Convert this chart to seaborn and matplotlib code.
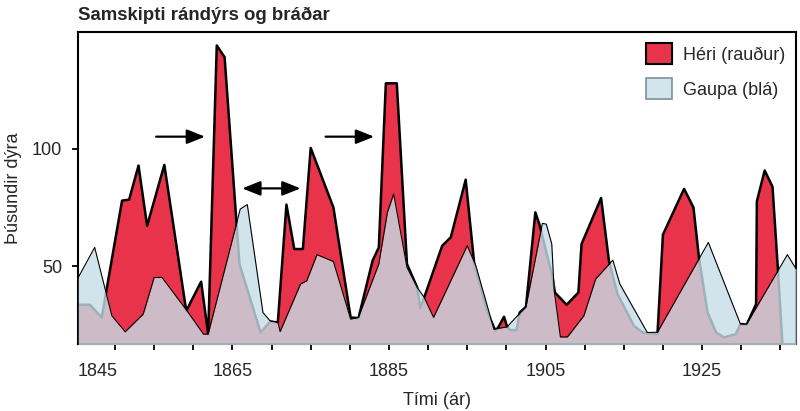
import matplotlib.pyplot as plt
import seaborn as sns
import pandas as pd
from matplotlib.patches import Patch

# values (thousands of animals)
hare_years = [1845.3, 1846.8, 1848.3, 1850.9, 1851.8, 1853.0, 1854.1, 1856.3, 1859.1, 1861.0,
              1861.9, 1863.0, 1864.0, 1865.9, 1868.6, 1869.8, 1870.8, 1871.9, 1872.9, 1874.0,
              1875.0, 1877.9, 1880.1, 1881.1, 1882.9, 1883.7, 1884.6, 1886.0, 1887.3, 1888.6,
              1889.0, 1889.5, 1891.8, 1892.9, 1894.8, 1895.9, 1897.6, 1898.6, 1899.0, 1899.7,
              1900.1, 1900.5, 1901.3, 1901.7, 1902.5, 1903.7, 1904.2, 1905.9, 1906.2, 1907.7,
              1909.2, 1909.6, 1912.1, 1913.1, 1914.2, 1916.3, 1917.4, 1918.2, 1919.3, 1920.0,
              1922.7, 1923.9, 1924.6, 1925.7, 1926.8, 1927.8, 1929.3, 1929.9, 1930.7, 1931.9,
              1932.0, 1933.0, 1934.0, 1934.7, 1935.3]
hare = [33.7, 33.7, 28.3, 78.0, 78.4, 92.9, 67.3, 93.2, 31.1, 43.5,
        21.2, 144.0, 139.0, 51.0, 21.9, 26.5, 26.2, 76.3, 57.4, 57.4,
        100.4, 75.1, 28.3, 28.0, 52.4, 58.1, 127.9, 127.9, 51.0, 41.1,
        32.3, 36.8, 58.8, 62.4, 86.9, 51.0, 30.4, 22.6, 24.3, 28.6,
        24.3, 22.9, 22.9, 30.4, 32.8, 73.0, 68.1, 45.3, 38.9, 33.7,
        38.9, 59.5, 79.1, 52.4, 38.2, 24.7, 21.9, 21.5, 21.2, 63.5,
        83.0, 75.1, 53.8, 30.4, 21.9, 19.8, 21.2, 25.5, 25.2, 34.0,
        77.7, 90.8, 83.9, 48.2, 15.0]

lynx_years = [1845.3, 1847.4, 1848.9, 1849.6, 1851.3, 1853.6, 1855.0, 1856.0, 1859.2, 1861.3,
              1861.9, 1866.0, 1866.9, 1868.9, 1869.8, 1870.8, 1871.1, 1873.7, 1874.5, 1875.8,
              1877.9, 1880.1, 1881.1, 1883.7, 1884.8, 1885.6, 1887.3, 1888.6, 1889.5, 1890.7,
              1895.0, 1896.1, 1898.4, 1900.1, 1901.6, 1902.5, 1904.6, 1905.1, 1905.8, 1906.1,
              1906.9, 1907.8, 1909.9, 1911.4, 1913.6, 1914.5, 1918.0, 1919.3, 1925.8, 1929.9,
              1930.7, 1935.9, 1937.0]
lynx = [45.3, 58.1, 38.2, 29.0, 22.2, 29.7, 45.3, 45.3, 31.1, 21.2,
        21.2, 74.4, 76.3, 30.4, 26.9, 26.2, 22.3, 42.5, 43.9, 55.0,
        52.1, 27.6, 28.3, 51.0, 73.0, 80.8, 49.6, 41.1, 36.8, 28.3,
        58.8, 50.3, 23.3, 24.3, 29.7, 32.8, 68.3, 68.0, 59.5, 40.0,
        20.0, 20.0, 29.0, 44.6, 52.7, 42.5, 21.9, 22.0, 60.2, 25.5,
        25.5, 55.0, 49.0]

year_ticks = list(range(1850, 1940, 5))
year_labels = [1865, 1885, 1905, 1925]

hare_df = pd.DataFrame({"year": hare_years, "count": hare})
lynx_df = pd.DataFrame({"year": lynx_years, "count": lynx})

sns.set_theme(style="ticks")
plt.rcParams["font.family"] = ["Liberation Sans", "DejaVu Sans"]

red = "#e8334a"
blue = "#c7dee7"

fig = plt.figure(figsize=(8, 4.11), dpi=100)
ax = fig.add_axes([0.0975, 0.163, 0.8975, 0.759])

ax.fill_between(hare_df["year"], hare_df["count"], 0, color=red, lw=0, zorder=1)
sns.lineplot(data=hare_df, x="year", y="count", color="black", lw=1.8,
             estimator=None, ax=ax, zorder=2)
ax.fill_between(lynx_df["year"], lynx_df["count"], 0, color=blue, alpha=0.8, lw=0, zorder=3)
sns.lineplot(data=lynx_df, x="year", y="count", color="black", lw=0.8,
             estimator=None, ax=ax, zorder=4)

ax.set_xlim(1845.27, 1937.0)
ax.set_ylim(17, 149.7)
ax.set_xticks(year_ticks)
ax.set_xticklabels([str(y) if y in year_labels else "" for y in year_ticks])
ax.set_yticks([50, 100])
tick_len, tick_pad = 4.5, 9
ax.tick_params(axis="x", labelsize=13, length=tick_len, width=1.3, pad=tick_pad, color="black")
ax.tick_params(axis="y", labelsize=13, length=tick_len, width=1.3, pad=7, color="black")
# the first year sits on the left spine, label it left-aligned like the reference
ax.annotate("1845", xy=(0, 0), xycoords="axes fraction",
            xytext=(0, -(tick_len + tick_pad)), textcoords="offset points",
            ha="left", va="top", fontsize=13)

for s in ax.spines.values():
    s.set_linewidth(1.5)
    s.set_color("black")

ax.set_xlabel("Tími (ár)", fontsize=13, labelpad=9)
ax.set_ylabel("Þúsundir dýra", fontsize=13, labelpad=7)
ax.set_title("Samskipti rándýrs og bráðar", loc="left", fontsize=13.4,
             fontweight="bold", pad=9)

arrow = dict(arrowstyle="-|>,head_length=0.55,head_width=0.22", color="black",
             lw=1.6, shrinkA=0, shrinkB=0, mutation_scale=20)
ax.annotate("", xy=(1861.5, 105.2), xytext=(1855.25, 105.2), arrowprops=arrow, zorder=6)
ax.annotate("", xy=(1883.1, 105.2), xytext=(1876.9, 105.2), arrowprops=arrow, zorder=6)
ax.annotate("", xy=(1873.7, 83.2), xytext=(1866.25, 83.2),
            arrowprops=dict(arrow, arrowstyle="<|-|>,head_length=0.55,head_width=0.22"),
            zorder=6)

handles = [Patch(facecolor=red, edgecolor="black", lw=1.5, label="Héri (rauður)"),
           Patch(facecolor="#d2e5ec", edgecolor="#7f8f96", lw=1.2, label="Gaupa (blá)")]
ax.legend(handles=handles, loc="upper right", frameon=False, fontsize=13,
          handlelength=1.45, handleheight=1.45, handletextpad=0.6,
          labelspacing=0.75, borderaxespad=0.2, bbox_to_anchor=(1.0, 1.0))

fig.savefig("out.png", dpi=100)
